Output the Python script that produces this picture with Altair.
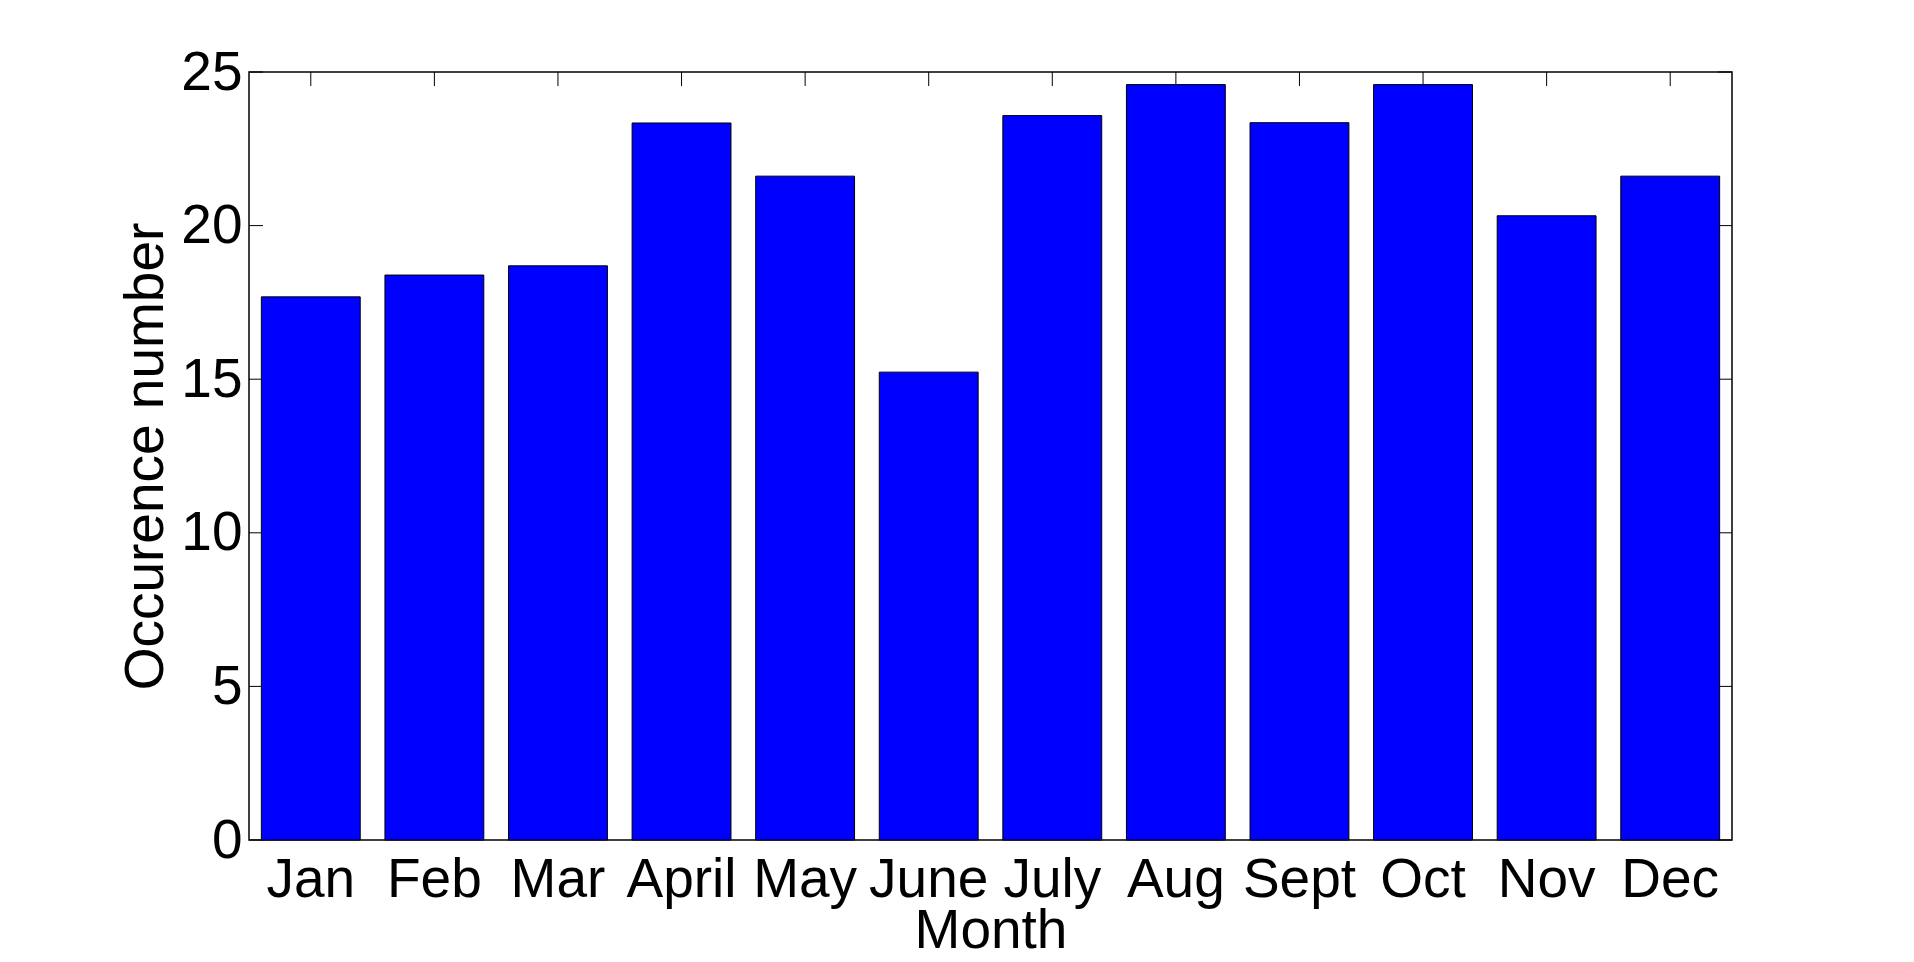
import altair as alt
import pandas as pd

months = ["Jan", "Feb", "Mar", "April", "May", "June", "July", "Aug", "Sept", "Oct", "Nov", "Dec"]
counts = [17.68, 18.39, 18.69, 23.34, 21.61, 15.23, 23.58, 24.59, 23.35, 24.59, 20.32, 21.61]
y_ticks = [0, 5, 10, 15, 20, 25]

W, H = 1483, 768
FONT = "Liberation Sans"
FS = 55
TICK = 14

bars_df = pd.DataFrame({"Month": months, "Count": counts})
ytick_df = pd.DataFrame({"Count": y_ticks})
xtick_df = pd.DataFrame({"Month": months})

xscale = alt.Scale(domain=months, paddingInner=0.2, paddingOuter=0.1)
yscale = alt.Scale(domain=[0, 25], nice=False, zero=True)

x_axis = alt.Axis(title="Month", labelAngle=0, ticks=False, tickSize=0,
                  domain=False, labelFont=FONT, labelFontSize=FS,
                  labelColor="black", labelBaseline="alphabetic",
                  labelPadding=56, labelOverlap=False, titleFont=FONT, titleFontSize=FS,
                  titleFontWeight="normal", titleColor="black",
                  titleBaseline="alphabetic", titleX=W / 2, titleY=107,
                  grid=False)
y_axis = alt.Axis(title="Occurence number", values=y_ticks, ticks=False,
                  tickSize=0, domain=False, labelFont=FONT, labelFontSize=FS,
                  labelColor="black", labelPadding=7, titleFont=FONT,
                  titleFontSize=FS, titleFontWeight="normal",
                  titleColor="black", titleBaseline="alphabetic",
                  titleX=-87, titleY=H / 2, grid=False)

x_enc = alt.X("Month:N", sort=months, scale=xscale, axis=x_axis)
y_enc = alt.Y("Count:Q", scale=yscale, axis=y_axis)

# inside tick marks (drawn beneath the bars)
top_ticks = alt.Chart(xtick_df).mark_rule(color="black", strokeWidth=1).encode(
    x=x_enc, y=alt.value(0), y2=alt.value(TICK))
bottom_ticks = alt.Chart(xtick_df).mark_rule(color="black", strokeWidth=1).encode(
    x=x_enc, y=alt.value(H), y2=alt.value(H - TICK))
left_ticks = alt.Chart(ytick_df).mark_rule(color="black", strokeWidth=1).encode(
    y=y_enc, x=alt.value(0), x2=alt.value(TICK))
right_ticks = alt.Chart(ytick_df).mark_rule(color="black", strokeWidth=1).encode(
    y=y_enc, x=alt.value(W), x2=alt.value(W - TICK))

bars = alt.Chart(bars_df).mark_bar(color="#0000FF", stroke="black", strokeWidth=1).encode(
    x=x_enc, y=y_enc)

chart = alt.layer(top_ticks, bottom_ticks, left_ticks, right_ticks, bars).properties(
    width=W, height=H,
    background="white",
    autosize=alt.AutoSizeParams(type="none"),
    padding={"left": 241, "top": 64, "right": 170, "bottom": 113},
).configure_view(stroke="black", strokeWidth=1.5)

chart.save("out.html", embed_options={"renderer": "svg", "actions": False})
